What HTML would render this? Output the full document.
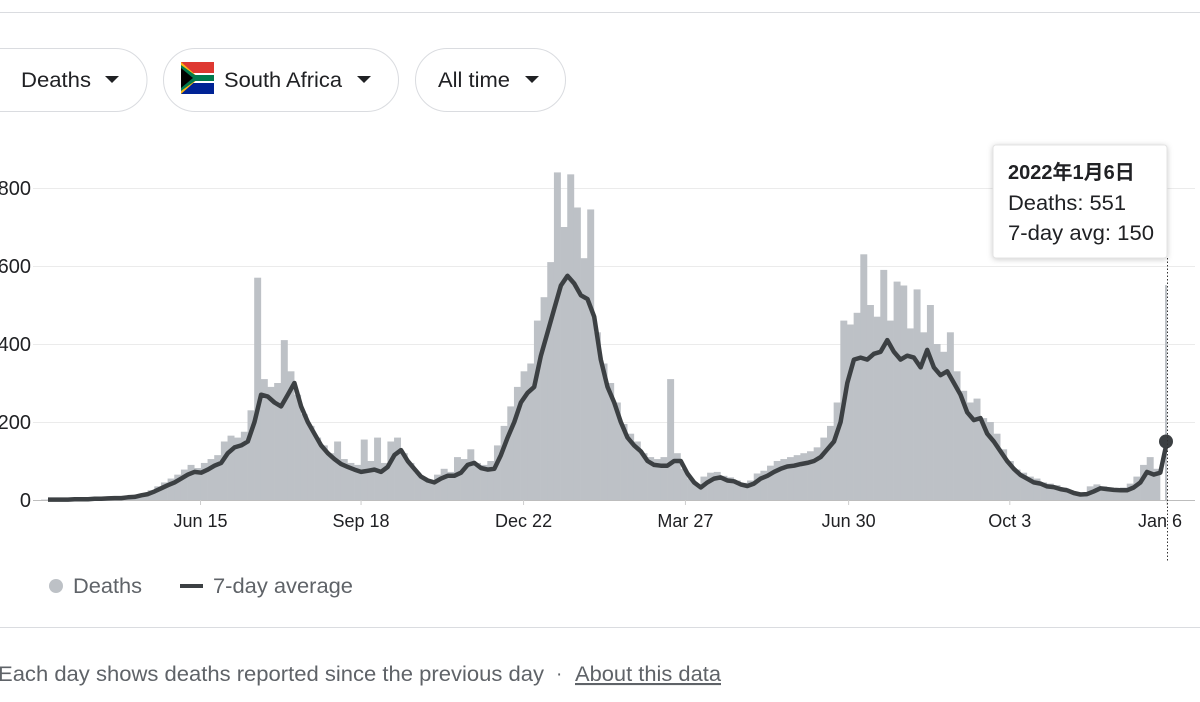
<!DOCTYPE html>
<html><head><meta charset="utf-8"><style>
html,body{margin:0;padding:0;background:#fff;width:1200px;height:702px;overflow:hidden}
svg{display:block;font-family:"Liberation Sans","Noto Sans CJK JP",sans-serif}
</style></head><body>
<svg id="chart" width="1200" height="702" viewBox="0 0 1200 702">
  <line x1="0" y1="12.5" x2="1200" y2="12.5" stroke="#dadce0"/>
  <g>
    <rect x="-30" y="48.5" width="177" height="63" rx="31.5" fill="#fff" stroke="#dadce0"/>
    <text x="21" y="87" font-size="21" fill="#202124" textLength="70" lengthAdjust="spacingAndGlyphs">Deaths</text>
    <path d="M105 76 L119 76 L112 83 Z" fill="#202124"/>
  </g>
  <g>
    <rect x="163.5" y="48.5" width="235" height="63" rx="31.5" fill="#fff" stroke="#dadce0"/>
    <g>
      <rect x="181" y="62" width="33" height="32" rx="2" fill="#fff"/>
      <rect x="181" y="62" width="33" height="11" fill="#de3831"/>
      <rect x="181" y="83" width="33" height="11" fill="#002395"/>
      <path d="M181 62 L199 78 L181 94 Z" fill="#ffb612"/>
      <path d="M181 65 L195 75 L214 75 L214 81 L195 81 L181 91 Z" fill="#007a4d"/>
      <path d="M181 68 L193 78 L181 88 Z" fill="#000"/>
    </g>
    <text x="224" y="87" font-size="21" fill="#202124" textLength="118" lengthAdjust="spacingAndGlyphs">South Africa</text>
    <path d="M357 76 L371 76 L364 83 Z" fill="#202124"/>
  </g>
  <g>
    <rect x="415.5" y="48.5" width="150" height="63" rx="31.5" fill="#fff" stroke="#dadce0"/>
    <text x="438" y="87" font-size="21" fill="#202124" textLength="72" lengthAdjust="spacingAndGlyphs">All time</text>
    <path d="M525 76 L539 76 L532 83 Z" fill="#202124"/>
  </g>
  <g id="grid"></g>
  <g id="bars"></g>
  <g id="line"></g>
  <g id="xaxis"></g>
  <line x1="1167.5" y1="258" x2="1167.5" y2="562" stroke="#333" stroke-dasharray="1.5,2"/>
  <g id="tooltip">
    <rect x="993" y="145" width="174" height="113" rx="3" fill="#fff" stroke="#e3e3e3" style="filter:drop-shadow(0 1px 3px rgba(0,0,0,0.2))"/>
    <text x="1008" y="179" font-size="20" font-weight="bold" fill="#202124">2022年1月6日</text>
    <text x="1008" y="210" font-size="21" fill="#202124" textLength="118" lengthAdjust="spacingAndGlyphs">Deaths: 551</text>
    <text x="1008" y="240" font-size="21" fill="#202124" textLength="146" lengthAdjust="spacingAndGlyphs">7-day avg: 150</text>
  </g>
  <g>
    <circle cx="56" cy="586" r="7" fill="#bdc1c6"/>
    <text x="73" y="593" font-size="21" fill="#5f6368" textLength="69" lengthAdjust="spacingAndGlyphs">Deaths</text>
    <rect x="180" y="584" width="23" height="4" fill="#3c4043"/>
    <text x="213" y="593" font-size="21" fill="#5f6368" textLength="140" lengthAdjust="spacingAndGlyphs">7-day average</text>
  </g>
  <line x1="0" y1="627.5" x2="1200" y2="627.5" stroke="#dadce0"/>
  <text x="-2" y="681" font-size="21" fill="#5f6368" textLength="546" lengthAdjust="spacingAndGlyphs">Each day shows deaths reported since the previous day</text>
  <text x="556" y="680" font-size="19" fill="#5f6368">·</text>
  <text x="575" y="681" font-size="21" fill="#5f6368" textLength="146" lengthAdjust="spacingAndGlyphs" text-decoration="underline">About this data</text>
</svg>
<script>
const deaths = [1,2,1,2,3,2,3,4,3,5,6,5,8,9,14,18,
25,35,45,55,65,78,90,82,95,105,115,150,165,160,175,
230,570,310,290,300,410,330,270,220,190,160,140,120,150,105,
95,90,155,100,160,95,150,160,120,95,70,55,50,65,80,
72,110,105,130,95,90,100,140,190,240,290,330,350,460,520,
610,840,700,835,750,620,745,430,350,300,250,195,170,150,120,
110,105,110,310,120,80,55,40,60,70,72,62,58,50,44,
50,68,75,88,100,105,110,115,120,125,135,160,190,250,460,
450,480,630,500,470,590,460,560,550,440,540,430,500,400,380,
430,330,280,250,260,210,200,170,130,100,78,70,60,55,45,
42,38,32,25,20,18,35,40,35,32,30,32,42,60,90,110,80,551];
const avg = [1,1,1,1,2,2,2,3,3,4,5,5,7,8,12,15,
22,30,38,45,55,65,72,70,78,88,95,120,135,140,150,
200,270,265,250,240,270,300,240,200,170,140,120,105,92,85,
78,72,75,78,72,85,115,128,100,80,60,50,45,55,62,
62,70,90,95,82,78,80,115,160,200,250,275,290,370,430,
490,550,575,555,525,515,470,360,290,250,200,160,140,125,100,
90,88,88,100,100,68,45,32,45,55,58,50,48,40,36,
42,55,62,72,80,86,88,92,95,100,110,130,150,200,300,
360,365,360,375,380,410,380,360,370,365,340,385,340,320,330,
300,270,225,205,210,170,150,125,100,80,64,55,45,42,35,
33,28,25,18,14,15,22,30,28,26,25,25,32,45,72,65,70,150];
const tickLabels = ["Jun 15","Sep 18","Dec 22","Mar 27","Jun 30","Oct 3","Jan 6"];
const tickPeriods = [22.9,47.0,71.4,95.7,120.2,144.4,168];
const yTicks = [0,200,400,600,800];

const NS="http://www.w3.org/2000/svg";
const X0=48, X1=1167, Y0=500, PXU=0.39;
const n=deaths.length;
const xs=i=>X0+(X1-X0)*i/(n-1);
const ys=v=>Y0-v*PXU;
function mk(tag,attrs,parent){const e=document.createElementNS(NS,tag);for(const k in attrs)e.setAttribute(k,attrs[k]);parent.appendChild(e);return e;}

const grid=document.getElementById('grid');
yTicks.forEach(v=>{
  const l=mk('line',{x1:33,x2:1195,y1:ys(v)+0.5,y2:ys(v)+0.5,stroke:v===0?'#bdbdbd':'#ebebeb'},grid);
  
  
  const t=mk('text',{x:31,y:ys(v)+7,'font-size':20,fill:'#202124','text-anchor':'end'},grid);
  t.textContent=v;
  
  
});

const bars=document.getElementById('bars');
const w=(X1-X0)/(n-1);
deaths.forEach((d,i)=>{
  const x=xs(i);
  const bw=(i===n-1)?2:w+0.3;
  const r=mk('rect',{x:x-bw,y:ys(d),width:bw,height:Math.max(0,Y0-ys(d)),fill:'#bdc1c6'},bars);
  
  
});

const lineG=document.getElementById('line');
const pts=avg.map((v,i)=>xs(i).toFixed(1)+','+ys(v).toFixed(1)).join(' ');
const pl=mk('polyline',{points:pts,fill:'none',stroke:'#3c4043','stroke-width':4.5,'stroke-linejoin':'round'},lineG);


const dot=mk('circle',{cx:xs(n-1)-1,cy:ys(avg[n-1]),r:7,fill:'#3c4043'},lineG);



const xa=document.getElementById('xaxis');
tickLabels.forEach((lab,k)=>{
  const x=xs(tickPeriods[k]);
  const tk=mk('line',{x1:x,x2:x,y1:500,y2:505,stroke:'#ccc'},xa);
  
  
  const t=mk('text',{x:k===tickLabels.length-1?x-7:x,y:527,'font-size':18,fill:'#202124','text-anchor':'middle'},xa);
  t.textContent=lab;
  
  
});
</script>
</body></html>
